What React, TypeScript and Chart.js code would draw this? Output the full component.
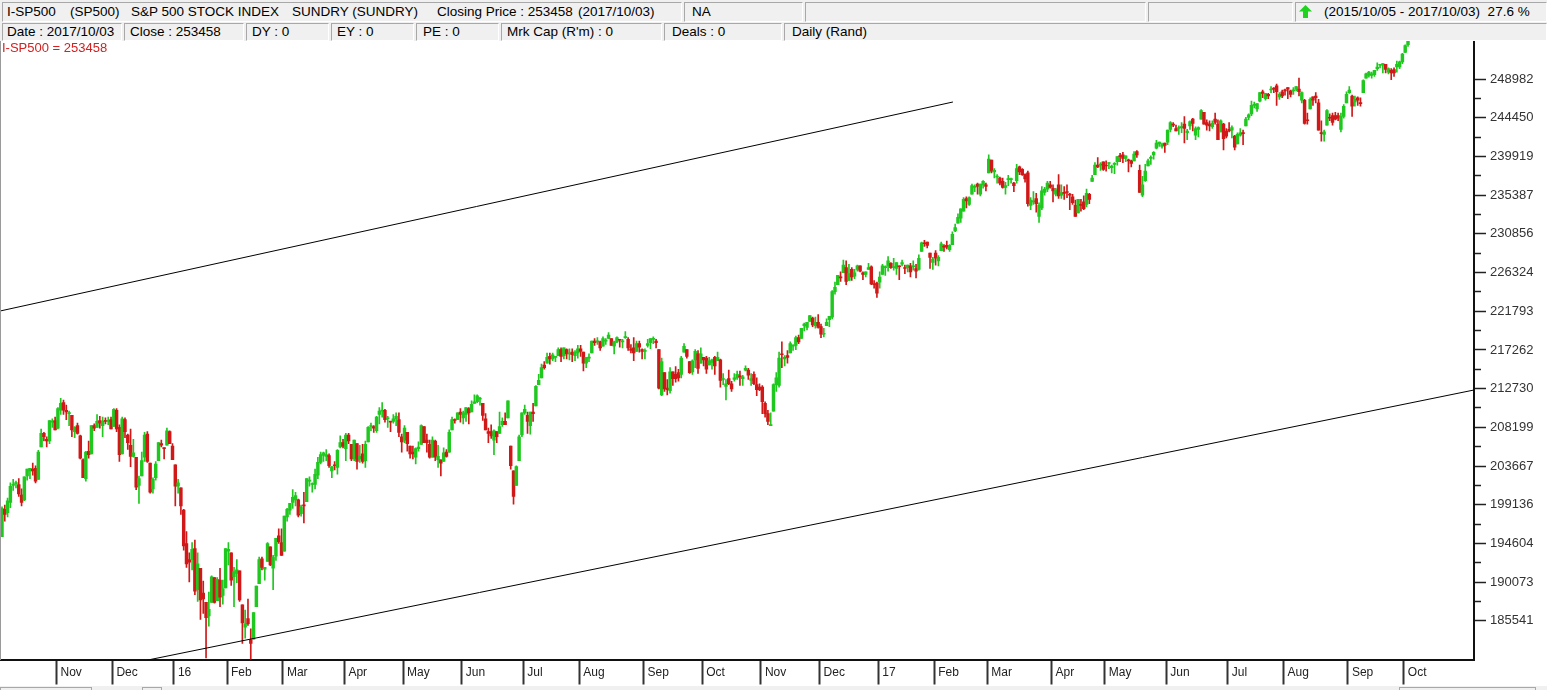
import React, { useEffect, useRef } from 'react';
import { Chart, registerables } from 'chart.js';

Chart.register(...registerables);

// Daily bars, S&P 500 points: [open, high, low, close]
const oct2015 = [[1954,1989,1954,1987],[1986,1991,1972,1980],[1982,1999,1977,1996],[1994,2017,1988,2013],[2014,2021,2008,2015],[2016,2019,2011,2017],[2015,2022,2001,2004],[2003,2010,1990,1994],[1997,2024,1996,2024],[2025,2033,2020,2033],[2031,2034,2022,2034],[2033,2040,2026,2031],[2034,2037,2017,2019],[2021,2055,2021,2053],[2059,2080,2059,2075],[2075,2076,2066,2071],[2068,2071,2059,2066],[2066,2090,2063,2090],[2088,2092,2082,2089],[2090,2094,2079,2079]];
const nov2015 = [[2081,2105,2080,2104],[2102,2116,2097,2110],[2111,2114,2097,2102],[2102,2108,2091,2100],[2098,2101,2084,2099],[2096,2096,2071,2079],[2077,2083,2070,2082],[2084,2087,2074,2075],[2072,2073,2045,2046],[2044,2045,2023,2023],[2022,2054,2019,2053],[2054,2066,2046,2050],[2051,2084,2051,2084],[2084,2086,2078,2081],[2082,2097,2082,2089],[2090,2095,2081,2087],[2084,2094,2071,2089],[2090,2093,2086,2089],[2089,2094,2085,2090],[2091,2094,2080,2080]];
const dec2015 = [[2083,2104,2083,2103],[2102,2104,2077,2080],[2082,2085,2042,2050],[2051,2094,2051,2092],[2091,2093,2070,2077],[2073,2074,2056,2064],[2061,2080,2036,2048],[2048,2068,2047,2052],[2047,2047,2009,2012],[2014,2025,1993,2022],[2025,2053,2025,2043],[2047,2076,2042,2073],[2074,2077,2041,2042],[2040,2040,2005,2006],[2010,2023,2005,2021],[2023,2042,2020,2039],[2043,2064,2043,2064],[2063,2067,2059,2061],[2058,2058,2045,2057],[2061,2081,2061,2078],[2077,2078,2063,2063],[2060,2063,2044,2044]];
const jan2016 = [[2038,2038,1990,2013],[2013,2021,2005,2017],[2011,2011,1980,1990],[1985,1986,1938,1943],[1946,1960,1918,1922],[1927,1935,1901,1924],[1927,1947,1915,1939],[1940,1950,1886,1890],[1892,1935,1878,1922],[1917,1917,1857,1880],[1888,1902,1864,1881],[1877,1877,1812,1859],[1861,1889,1849,1869],[1877,1908,1877,1907],[1906,1906,1876,1877],[1879,1906,1879,1904],[1903,1917,1872,1883],[1885,1903,1875,1893],[1894,1940,1894,1940]];
const feb2016 = [[1937,1947,1921,1939],[1935,1935,1897,1903],[1907,1918,1872,1913],[1911,1927,1900,1915],[1914,1914,1878,1880],[1874,1874,1829,1853],[1848,1868,1835,1852],[1858,1881,1850,1852],[1833,1846,1810,1829],[1834,1865,1834,1865],[1872,1896,1872,1896],[1899,1930,1899,1927],[1928,1930,1915,1918],[1916,1918,1903,1918],[1925,1947,1925,1946],[1942,1942,1920,1921],[1917,1932,1892,1930],[1931,1952,1926,1952],[1955,1963,1946,1948],[1947,1963,1932,1932]];
const mar2016 = [[1937,1978,1937,1978],[1977,1987,1972,1986],[1985,1993,1980,1993],[1994,2009,1987,2000],[1997,2006,1990,2002],[1997,1998,1977,1979],[1981,1991,1978,1989],[1991,2006,1970,1990],[1995,2022,1995,2022],[2019,2024,2013,2020],[2015,2017,2006,2016],[2015,2033,2010,2027],[2026,2047,2022,2041],[2041,2053,2039,2050],[2049,2053,2042,2052],[2048,2056,2043,2050],[2049,2051,2035,2037],[2031,2036,2023,2036],[2038,2042,2032,2037],[2035,2056,2027,2055],[2059,2072,2058,2064],[2064,2068,2058,2060]];
const apr2016 = [[2057,2075,2043,2073],[2073,2075,2063,2066],[2062,2062,2043,2045],[2045,2067,2043,2067],[2063,2063,2033,2042],[2045,2061,2041,2048],[2051,2062,2040,2042],[2043,2066,2035,2062],[2065,2083,2065,2082],[2083,2087,2078,2083],[2083,2084,2076,2081],[2078,2095,2076,2094],[2097,2105,2086,2101],[2101,2111,2094,2102],[2102,2103,2088,2091],[2092,2095,2082,2092],[2089,2089,2077,2088],[2089,2097,2087,2092],[2092,2099,2084,2095],[2091,2099,2071,2076],[2071,2074,2053,2065]];
const may2016 = [[2067,2084,2064,2081],[2076,2076,2054,2063],[2060,2060,2046,2051],[2053,2060,2045,2051],[2047,2058,2039,2057],[2057,2065,2054,2059],[2062,2085,2062,2084],[2083,2083,2064,2064],[2067,2074,2053,2064],[2062,2067,2046,2047],[2047,2071,2047,2067],[2066,2067,2043,2047],[2044,2061,2035,2048],[2044,2044,2025,2040],[2042,2058,2042,2052],[2053,2056,2047,2048],[2053,2079,2053,2076],[2079,2094,2079,2091],[2091,2092,2087,2090],[2091,2099,2091,2099],[2100,2104,2088,2097]];
const jun2016 = [[2093,2101,2086,2099],[2097,2105,2089,2105],[2104,2105,2086,2099],[2100,2113,2100,2109],[2110,2120,2110,2112],[2112,2120,2111,2119],[2115,2117,2108,2115],[2110,2110,2090,2096],[2092,2098,2079,2079],[2077,2081,2064,2075],[2077,2085,2069,2072],[2067,2079,2050,2078],[2077,2077,2064,2071],[2075,2100,2075,2083],[2085,2093,2083,2089],[2089,2099,2085,2085],[2093,2113,2093,2113],[2060,2060,2033,2037],[2031,2031,1992,2001],[2014,2037,2014,2036],[2043,2073,2043,2071],[2073,2099,2071,2099]];
const jul2016 = [[2099,2108,2097,2103],[2096,2100,2075,2089],[2084,2100,2074,2100],[2100,2110,2089,2098],[2107,2131,2107,2130],[2132,2144,2132,2137],[2140,2156,2140,2152],[2155,2159,2150,2152],[2157,2169,2157,2164],[2165,2169,2156,2162],[2162,2169,2160,2167],[2164,2164,2159,2164],[2166,2175,2166,2173],[2173,2175,2159,2165],[2166,2175,2162,2175],[2173,2174,2162,2168],[2168,2174,2161,2169],[2170,2174,2159,2167],[2166,2172,2160,2170],[2169,2178,2163,2174]];
const aug2016 = [[2174,2178,2165,2171],[2170,2170,2148,2157],[2157,2164,2152,2164],[2163,2168,2159,2164],[2169,2183,2169,2183],[2183,2186,2178,2181],[2182,2187,2179,2182],[2182,2183,2172,2175],[2177,2188,2177,2186],[2183,2186,2179,2184],[2186,2193,2186,2190],[2186,2186,2178,2178],[2177,2183,2168,2182],[2182,2188,2181,2187],[2185,2185,2176,2184],[2182,2185,2175,2183],[2187,2194,2186,2187],[2185,2187,2172,2175],[2174,2179,2169,2172],[2175,2187,2160,2169],[2171,2183,2171,2180],[2180,2183,2170,2176],[2173,2174,2162,2171]];
const sep2016 = [[2171,2174,2162,2171],[2178,2185,2176,2180],[2181,2186,2174,2186],[2185,2188,2180,2186],[2183,2185,2175,2181],[2173,2173,2127,2128],[2120,2163,2119,2159],[2146,2146,2124,2127],[2128,2138,2120,2126],[2125,2152,2122,2147],[2147,2147,2131,2139],[2144,2153,2135,2139],[2146,2150,2136,2140],[2144,2165,2140,2163],[2170,2180,2170,2177],[2173,2173,2163,2165],[2159,2159,2145,2146],[2147,2161,2144,2160],[2161,2173,2152,2171],[2168,2172,2145,2151],[2157,2175,2157,2168]];
const oct2016 = [[2164,2164,2154,2161],[2163,2165,2145,2150],[2155,2164,2155,2160],[2158,2162,2150,2161],[2164,2165,2144,2154],[2160,2170,2160,2164],[2161,2162,2129,2137],[2138,2145,2132,2139],[2130,2138,2114,2133],[2139,2149,2132,2133],[2133,2136,2124,2127],[2138,2145,2136,2140],[2140,2148,2138,2144],[2142,2148,2131,2141],[2139,2143,2131,2141],[2149,2154,2148,2151],[2149,2151,2138,2143],[2137,2145,2131,2139],[2144,2147,2132,2133],[2132,2140,2119,2126],[2129,2133,2125,2126]];
const nov2016 = [[2129,2131,2098,2112],[2110,2112,2094,2098],[2098,2102,2085,2089],[2084,2099,2084,2085],[2101,2133,2101,2132],[2132,2146,2124,2140],[2131,2170,2129,2163],[2168,2182,2152,2167],[2162,2166,2154,2164],[2166,2172,2157,2164],[2169,2182,2169,2180],[2177,2179,2172,2177],[2178,2189,2173,2187],[2187,2190,2180,2182],[2186,2198,2186,2198],[2201,2204,2195,2203],[2199,2205,2196,2205],[2206,2213,2206,2213],[2210,2211,2200,2202],[2201,2211,2198,2205],[2205,2214,2198,2199]];
const dec2016 = [[2200,2203,2187,2191],[2191,2198,2188,2192],[2201,2209,2201,2205],[2208,2212,2200,2212],[2211,2242,2209,2241],[2241,2252,2238,2246],[2249,2260,2249,2260],[2258,2264,2253,2257],[2263,2278,2263,2272],[2269,2277,2249,2253],[2254,2273,2254,2262],[2267,2269,2254,2258],[2259,2267,2256,2263],[2267,2272,2265,2271],[2271,2271,2264,2265],[2263,2264,2255,2261],[2261,2264,2258,2264],[2267,2274,2267,2269],[2270,2271,2249,2250],[2250,2254,2245,2249],[2251,2252,2234,2239]];
const jan2017 = [[2252,2264,2245,2258],[2261,2273,2261,2271],[2269,2271,2260,2269],[2271,2282,2265,2277],[2274,2275,2268,2269],[2269,2280,2266,2269],[2268,2275,2261,2275],[2271,2271,2255,2270],[2273,2278,2271,2275],[2269,2272,2262,2268],[2269,2272,2264,2272],[2271,2274,2258,2264],[2270,2277,2266,2271],[2268,2273,2257,2265],[2267,2284,2266,2280],[2288,2299,2288,2298],[2298,2301,2294,2297],[2299,2299,2292,2295],[2286,2286,2268,2281],[2275,2281,2267,2279]];
const feb2017 = [[2286,2289,2272,2280],[2277,2283,2271,2281],[2289,2299,2289,2297],[2294,2296,2288,2293],[2295,2300,2291,2293],[2290,2296,2288,2295],[2296,2311,2296,2308],[2312,2320,2311,2316],[2321,2332,2321,2328],[2327,2338,2322,2338],[2335,2351,2335,2349],[2350,2352,2339,2347],[2343,2352,2342,2351],[2355,2367,2355,2365],[2363,2366,2358,2363],[2367,2368,2355,2364],[2355,2367,2353,2367],[2366,2371,2362,2370],[2366,2368,2359,2364]];
const mar2017 = [[2380,2401,2380,2396],[2395,2395,2380,2382],[2381,2385,2374,2383],[2375,2378,2368,2375],[2374,2375,2366,2368],[2370,2374,2362,2363],[2363,2369,2355,2365],[2372,2377,2365,2373],[2372,2374,2368,2373],[2368,2369,2358,2365],[2371,2390,2368,2385],[2387,2388,2378,2381],[2384,2385,2377,2378],[2378,2379,2369,2373],[2380,2382,2341,2344],[2342,2351,2337,2348],[2346,2358,2343,2346],[2350,2356,2334,2344],[2329,2345,2322,2342],[2339,2364,2337,2359],[2357,2363,2354,2361],[2361,2370,2358,2368],[2366,2370,2362,2363]];
const apr2017 = [[2362,2366,2346,2359],[2355,2362,2353,2360],[2366,2378,2350,2353],[2354,2366,2350,2357],[2357,2364,2349,2356],[2358,2366,2351,2357],[2355,2356,2337,2354],[2352,2355,2343,2345],[2342,2348,2329,2329],[2333,2349,2333,2349],[2343,2349,2335,2342],[2346,2353,2337,2338],[2343,2361,2340,2356],[2355,2356,2344,2349],[2370,2377,2370,2374],[2378,2392,2378,2389],[2389,2398,2386,2387],[2389,2392,2383,2389],[2393,2393,2383,2384]];
const may2017 = [[2389,2394,2382,2388],[2391,2392,2385,2391],[2386,2389,2380,2388],[2390,2392,2379,2390],[2393,2399,2389,2399],[2400,2403,2393,2399],[2401,2404,2392,2397],[2397,2400,2393,2400],[2395,2396,2381,2394],[2394,2395,2387,2391],[2394,2405,2394,2402],[2405,2406,2398,2401],[2383,2389,2357,2357],[2354,2376,2352,2366],[2371,2390,2370,2382],[2388,2396,2388,2394],[2397,2400,2390,2398],[2401,2405,2396,2404],[2409,2418,2408,2415],[2414,2416,2411,2416],[2411,2415,2409,2413],[2415,2415,2404,2412]];
const jun2017 = [[2416,2430,2413,2430],[2431,2440,2428,2439],[2437,2439,2434,2436],[2432,2436,2429,2429],[2432,2435,2425,2433],[2433,2439,2427,2434],[2437,2446,2415,2432],[2427,2431,2419,2429],[2435,2441,2431,2440],[2443,2444,2429,2438],[2424,2434,2419,2432],[2431,2434,2422,2433],[2443,2454,2443,2453],[2451,2451,2437,2437],[2439,2442,2430,2436],[2437,2441,2429,2435],[2434,2441,2432,2438],[2443,2450,2437,2439],[2437,2442,2419,2419],[2428,2442,2428,2441],[2437,2438,2407,2420],[2429,2432,2421,2423]];
const jul2017 = [[2431,2439,2428,2429],[2430,2435,2421,2433],[2423,2424,2407,2410],[2414,2427,2414,2425],[2424,2432,2423,2427],[2427,2430,2413,2426],[2435,2445,2435,2443],[2445,2449,2442,2448],[2449,2464,2447,2459],[2459,2463,2456,2459],[2455,2461,2452,2461],[2464,2474,2463,2474],[2475,2477,2468,2473],[2467,2473,2465,2473],[2472,2473,2467,2470],[2477,2481,2474,2477],[2479,2480,2474,2478],[2482,2484,2459,2475],[2469,2474,2466,2472],[2475,2477,2468,2470]];
const aug2017 = [[2477,2478,2471,2476],[2480,2480,2467,2478],[2476,2477,2469,2472],[2476,2480,2472,2477],[2478,2481,2476,2481],[2478,2491,2470,2475],[2465,2475,2462,2474],[2465,2466,2437,2438],[2442,2450,2437,2441],[2455,2468,2455,2466],[2469,2469,2459,2465],[2470,2474,2462,2468],[2462,2466,2430,2430],[2427,2441,2417,2426],[2425,2430,2417,2428],[2436,2454,2436,2453],[2445,2449,2441,2444],[2447,2450,2436,2439],[2447,2451,2442,2443],[2447,2450,2441,2444],[2431,2450,2428,2446],[2446,2460,2444,2458],[2462,2475,2462,2472]];
const sep2017 = [[2474,2481,2473,2477],[2470,2471,2446,2458],[2463,2470,2458,2466],[2468,2469,2459,2465],[2462,2468,2458,2461],[2474,2489,2474,2488],[2491,2497,2491,2496],[2494,2499,2492,2498],[2494,2498,2491,2496],[2495,2500,2493,2500],[2502,2509,2500,2504],[2506,2507,2503,2507],[2506,2508,2497,2508],[2507,2507,2497,2501],[2498,2503,2496,2502],[2500,2502,2489,2497],[2501,2503,2493,2497],[2504,2511,2498,2507],[2504,2511,2502,2510],[2510,2520,2508,2519]];
const oct2017 = [[2521,2530,2521,2529],[2530,2535,2528,2535]];

const months = [oct2015, nov2015, dec2015, jan2016, feb2016, mar2016, apr2016, may2016, jun2016, jul2016, aug2016, sep2016, oct2016, nov2016, dec2016, jan2017, feb2017, mar2017, apr2017, may2017, jun2017, jul2017, aug2017, sep2017, oct2017];

// Month labels for each month boundary after the first (Oct 2015)
const monthLabels = ['Nov', 'Dec', '16', 'Feb', 'Mar', 'Apr', 'May', 'Jun', 'Jul', 'Aug', 'Sep', 'Oct', 'Nov', 'Dec', '17', 'Feb', 'Mar', 'Apr', 'May', 'Jun', 'Jul', 'Aug', 'Sep', 'Oct'];

// Price-axis labels (index points x 100)
const priceLabels = [185541, 190073, 194604, 199136, 203667, 208199, 212730, 217262, 221793, 226324, 230856, 235387, 239919, 244450, 248982];
const priceMin = 1810.10;
const priceMax = 2535.13;

// Trend lines: [bar index, price]
const upperTrend = [{ x: -0.72, y: 2218.2 }, { x: 340.2, y: 2463.0 }];
const lowerTrend = [{ x: 52.2, y: 1809.5 }, { x: 526.6, y: 2125.7 }];
const indexMin = -0.7155;
const indexMax = 526.61;

const GREEN = '#1ec81e';
const RED = '#d01818';
const FONT = '"Liberation Sans", Arial, sans-serif';

const bars = months.flat();
const monthStarts: number[] = [];
{
  let n = 0;
  months.forEach((m, i) => { if (i > 0) monthStarts.push(n); n += m.length; });
}
const barColors = bars.map((b) => (b[3] >= b[0] ? GREEN : RED));
const yTicks: number[] = [];
priceLabels.forEach((p, i) => {
  yTicks.push(p / 100);
  if (i < priceLabels.length - 1) yTicks.push((p + priceLabels[i + 1]) / 200);
});

function Panel(props: { left: number; top: number; width: number; height: number; children?: React.ReactNode }) {
  return (
    <div style={{
      position: 'absolute', left: props.left, top: props.top, width: props.width, height: props.height,
      boxSizing: 'border-box', borderStyle: 'solid', borderWidth: 1, borderColor: '#a8a8a8 #ffffff #ffffff #a8a8a8',
      background: '#f0f0f0',
    }}>{props.children}</div>
  );
}

function Txt(props: { left: number; top: number; children: React.ReactNode; color?: string; size?: number }) {
  return (
    <div style={{ position: 'absolute', left: props.left, top: props.top, fontSize: props.size || 13.5, color: props.color || '#000', whiteSpace: 'pre', lineHeight: '16px', fontFamily: FONT }}>{props.children}</div>
  );
}

export default function App() {
  const ref = useRef<HTMLCanvasElement | null>(null);
  useEffect(() => {
    document.body.style.margin = '0';
    const canvas = ref.current;
    if (!canvas) return;
    const chart = new Chart(canvas, {
      type: 'bar',
      data: {
        datasets: [
          { type: 'line', data: upperTrend, borderColor: '#000', borderWidth: 1, pointRadius: 0, order: 0 } as any,
          { type: 'line', data: lowerTrend, borderColor: '#000', borderWidth: 1, pointRadius: 0, order: 0 } as any,
          {
            type: 'bar', data: bars.map((b, i) => ({ x: i, y: [b[0], b[3]] })), backgroundColor: barColors,
            grouped: false, maxBarThickness: 3, barPercentage: 1, categoryPercentage: 1, minBarLength: 1, order: 1,
          } as any,
          {
            type: 'bar', data: bars.map((b, i) => ({ x: i, y: [b[2], b[1]] })), backgroundColor: barColors,
            grouped: false, maxBarThickness: 1, barPercentage: 1, categoryPercentage: 1, order: 2,
          } as any,
        ],
      },
      options: {
        responsive: false,
        animation: false,
        devicePixelRatio: 1,
        layout: { padding: { top: 40.4, left: 0, right: 0, bottom: 0 } },
        plugins: { legend: { display: false }, tooltip: { enabled: false } },
        scales: {
          x: {
            type: 'linear', min: indexMin, max: indexMax, offset: false,
            afterBuildTicks: (s: any) => { s.ticks = monthStarts.map((v) => ({ value: v - 0.5 })); },
            afterFit: (s: any) => { s.height = 30.5; },
            grid: { offset: false, drawOnChartArea: false, drawTicks: true, tickLength: 25, tickColor: '#333', tickWidth: 2 },
            border: { display: true, color: '#111', width: 2 },
            ticks: {
              autoSkip: false, maxRotation: 0, minRotation: 0, align: 'start', labelOffset: 4, padding: -19,
              color: '#222', font: { family: FONT, size: 12 },
              callback: (_v: any, i: number) => monthLabels[i],
            },
          },
          y: {
            type: 'linear', position: 'right', min: priceMin, max: priceMax, beginAtZero: false,
            afterBuildTicks: (s: any) => { s.ticks = yTicks.map((v) => ({ value: v })); },
            afterFit: (s: any) => { s.width = 73; },
            grid: {
              drawOnChartArea: false, drawTicks: true, tickLength: 12, tickColor: '#222', tickWidth: 1.5,
              tickBorderDash: (ctx: any) => (ctx.index % 2 === 1 ? [6, 60] : []),
            },
            border: { display: true, color: '#111', width: 2 },
            ticks: {
              padding: 4, color: '#333', font: { family: FONT, size: 13 },
              callback: (_v: any, i: number) => (i % 2 === 0 ? String(priceLabels[i / 2]) : ''),
            },
          },
        },
      } as any,
    });
    return () => chart.destroy();
  }, []);

  return (
    <div style={{ position: 'relative', width: 1547, height: 690, background: '#fff', overflow: 'hidden', fontFamily: FONT }}>
      <canvas ref={ref} width={1547} height={690} style={{ position: 'absolute', left: 0, top: 0, width: 1547, height: 690 }} />
      {/* header */}
      <div style={{ position: 'absolute', left: 0, top: 0, width: 1547, height: 41, background: '#f0f0f0' }} />
      <Panel left={2} top={2} width={680} height={20} />
      <Panel left={684} top={2} width={119} height={20} />
      <Panel left={805} top={2} width={341} height={20} />
      <Panel left={1148} top={2} width={145} height={20} />
      <Panel left={1295} top={2} width={252} height={20} />
      <Panel left={2} top={23} width={120} height={18} />
      <Panel left={124} top={23} width={120} height={18} />
      <Panel left={246} top={23} width={83} height={18} />
      <Panel left={331} top={23} width={83} height={18} />
      <Panel left={416} top={23} width={83} height={18} />
      <Panel left={501} top={23} width={161} height={18} />
      <Panel left={664} top={23} width={118} height={18} />
      <Panel left={784} top={23} width={763} height={18} />
      <Txt left={7} top={4}>I-SP500</Txt>
      <Txt left={70} top={4}>(SP500)</Txt>
      <Txt left={131} top={4}>S&amp;P 500 STOCK INDEX</Txt>
      <Txt left={292} top={4}>SUNDRY (SUNDRY)</Txt>
      <Txt left={437} top={4}>Closing Price : 253458</Txt>
      <Txt left={578} top={4}>(2017/10/03)</Txt>
      <Txt left={692} top={4}>NA</Txt>
      <svg style={{ position: 'absolute', left: 1299, top: 5 }} width={13} height={13} viewBox="0 0 13 13">
        <polygon points="6.5,0 13,6.5 9,6.5 9,13 4,13 4,6.5 0,6.5" fill="#1ed21e" />
      </svg>
      <Txt left={1324} top={4}>(2015/10/05 - 2017/10/03)  27.6 %</Txt>
      <Txt left={7} top={24}>Date : 2017/10/03</Txt>
      <Txt left={130} top={24}>Close : 253458</Txt>
      <Txt left={252} top={24}>DY : 0</Txt>
      <Txt left={337} top={24}>EY : 0</Txt>
      <Txt left={423} top={24}>PE : 0</Txt>
      <Txt left={507} top={24}>Mrk Cap (R'm) : 0</Txt>
      <Txt left={672} top={24}>Deals : 0</Txt>
      <Txt left={792} top={24}>Daily (Rand)</Txt>
      <Txt left={2} top={40} color="#d42020" size={13}>I-SP500 = 253458</Txt>
      {/* left frame edge and bottom strip */}
      <div style={{ position: 'absolute', left: 0, top: 41, width: 1, height: 619, background: '#9a9a9a' }} />
      <div style={{ position: 'absolute', left: 0, top: 686, width: 1547, height: 4, background: '#f0f0f0' }} />
      <div style={{ position: 'absolute', left: 0, top: 687, width: 92, height: 6, boxSizing: 'border-box', border: '1px solid #a8a8a8' }} />
      <div style={{ position: 'absolute', left: 142, top: 687, width: 20, height: 6, boxSizing: 'border-box', border: '1px solid #a8a8a8' }} />
      <div style={{ position: 'absolute', left: 1399, top: 687, width: 137, height: 6, boxSizing: 'border-box', border: '1px solid #a8a8a8' }} />
    </div>
  );
}
